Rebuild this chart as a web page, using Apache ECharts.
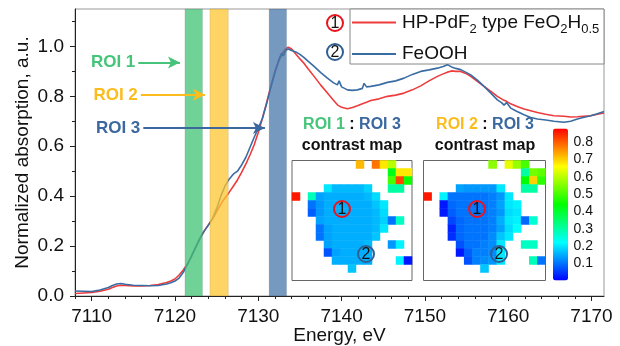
<!DOCTYPE html>
<html>
<head>
<meta charset="utf-8">
<script src="https://cdn.jsdelivr.net/npm/echarts@6/dist/echarts.min.js"></script>
<style>
  html, body { margin: 0; padding: 0; background: #fff; }
  #chart { width: 620px; height: 346px; }
</style>
</head>
<body>
<div id="chart"></div>
<script>
// spectra
const energy = [7108, 7109, 7110, 7111, 7112, 7112.5, 7113, 7113.5, 7114, 7115, 7116, 7117, 7118, 7119, 7119.5, 7120, 7120.5, 7121, 7121.5, 7122,
  7122.5, 7123, 7123.5, 7124, 7124.5, 7125, 7125.5, 7126, 7126.5, 7127, 7127.5, 7128, 7128.5, 7129, 7129.5, 7130, 7130.5, 7131, 7131.5, 7132,
  7132.5, 7132.8, 7133, 7133.3, 7133.6, 7134, 7134.5, 7135, 7135.5, 7136, 7136.7, 7137.5, 7138.3, 7139, 7139.5, 7139.7, 7140, 7140.7, 7141.3, 7141.9,
  7142.5, 7142.7, 7143, 7143.5, 7144.5, 7145.5, 7146.5, 7147.5, 7148.5, 7149.5, 7150.5, 7151.5, 7152.2, 7152.7, 7153.2, 7153.7, 7154.3, 7155, 7155.5, 7156.3,
  7157.1, 7158, 7158.7, 7159.2, 7159.5, 7159.8, 7160.3, 7161, 7161.9, 7162.7, 7163.5, 7164.5, 7165.5, 7166.7, 7167.5, 7168.3, 7169, 7169.9, 7170.7, 7171.5]
const absHP = [0.010, 0.012, 0.014, 0.019, 0.027, 0.034, 0.040, 0.043, 0.042, 0.040, 0.040, 0.042, 0.046, 0.054, 0.060, 0.068, 0.084, 0.104, 0.128, 0.160,
  0.196, 0.230, 0.260, 0.285, 0.308, 0.338, 0.368, 0.393, 0.415, 0.440, 0.465, 0.495, 0.528, 0.565, 0.605, 0.655, 0.712, 0.775, 0.840, 0.900,
  0.945, 0.965, 0.978, 0.990, 0.997, 0.990, 0.970, 0.950, 0.932, 0.910, 0.880, 0.845, 0.813, 0.785, 0.766, 0.762, 0.756, 0.750, 0.755, 0.762,
  0.770, 0.772, 0.776, 0.783, 0.790, 0.800, 0.805, 0.813, 0.826, 0.842, 0.862, 0.880, 0.890, 0.897, 0.902, 0.900, 0.900, 0.890, 0.880, 0.860,
  0.840, 0.818, 0.800, 0.790, 0.784, 0.780, 0.770, 0.760, 0.749, 0.742, 0.735, 0.728, 0.722, 0.720, 0.717, 0.718, 0.720, 0.722, 0.728, 0.733]
const absFeOOH = [0.020, 0.019, 0.018, 0.024, 0.034, 0.042, 0.048, 0.050, 0.047, 0.043, 0.042, 0.041, 0.042, 0.048, 0.053, 0.060, 0.072, 0.095, 0.127, 0.162,
  0.197, 0.232, 0.260, 0.283, 0.310, 0.350, 0.400, 0.440, 0.468, 0.488, 0.500, 0.525, 0.555, 0.595, 0.635, 0.672, 0.712, 0.770, 0.835, 0.895,
  0.950, 0.972, 0.962, 0.985, 0.990, 0.984, 0.978, 0.968, 0.955, 0.940, 0.920, 0.895, 0.873, 0.855, 0.846, 0.862, 0.838, 0.826, 0.824, 0.826,
  0.832, 0.852, 0.838, 0.840, 0.846, 0.856, 0.862, 0.873, 0.888, 0.900, 0.906, 0.913, 0.920, 0.927, 0.918, 0.912, 0.907, 0.895, 0.886, 0.865,
  0.840, 0.810, 0.786, 0.775, 0.765, 0.775, 0.753, 0.740, 0.726, 0.715, 0.709, 0.705, 0.700, 0.696, 0.700, 0.709, 0.715, 0.722, 0.730, 0.739]

const seriesNames = ['HP-PdF2 type FeO2H0.5', 'FeOOH']

const xMajorTicks = [7110, 7120, 7130, 7140, 7150, 7160, 7170]
const xMinorTicks = [7108, 7112, 7114, 7116, 7118, 7122, 7124, 7126, 7128, 7132, 7134, 7136, 7138, 7142, 7144, 7146, 7148,
  7152, 7154, 7156, 7158, 7162, 7164, 7166, 7168]
const yMajorTicks = [0, 0.2, 0.4, 0.6, 0.8, 1.0]
const yMinorTicks = [0.1, 0.3, 0.5, 0.7, 0.9, 1.1]
const cbarTicks = [0.1, 0.2, 0.3, 0.4, 0.5, 0.6, 0.7, 0.8]

// ROI energy windows and their arrows (eV, absorption)
const roiBands = [[7121.2, 7123.3], [7124.2, 7126.4], [7131.3, 7133.4]]
const roiNames = ['ROI 1', 'ROI 2', 'ROI 3']
const roiArrowStart = [7115.6, 7115.9, 7116.2]
const roiArrowEnd = [7120.6, 7123.6, 7130.8]
const roiArrowY = [0.936, 0.806, 0.673]

// contrast maps, 15 x 15 pixels, row 0 at the top, null = no data
const _ = null
const mapRoi1 = [
  [_, _, _, _, _, _, _, _, .72, _, .78, .68, .60, _, _],
  [_, _, _, _, _, _, _, _, _, _, _, _, .42, .68, .68],
  [_, _, _, _, _, _, _, _, _, _, _, _, .50, .82, .45],
  [_, _, _, _, .20, .16, .16, .16, .16, .18, _, _, .30, .30, _],
  [.86, _, .28, .14, .15, .15, .15, .15, .15, .16, .19, _, _, _, _],
  [_, _, .10, .13, .15, .15, .15, .15, .15, .15, .17, .20, _, _, _],
  [_, _, .08, .13, .15, .15, .15, .15, .15, .15, .16, .19, _, _, _],
  [_, _, _, .14, .15, .15, .15, .15, .15, .15, .16, .18, .10, .27, _],
  [_, _, _, .10, .14, .15, .15, .15, .15, .15, .16, .20, _, _, _],
  [_, _, _, .10, .14, .15, .15, .15, .15, .15, .17, _, _, _, _],
  [_, _, _, _, .14, .15, .15, .15, .15, .16, _, _, .13, .21, _],
  [_, _, _, _, .07, .14, .15, .15, .15, .15, _, _, _, _, _],
  [_, _, _, _, _, .15, .15, .15, .15, .15, _, _, _, .21, .02],
  [_, _, _, _, _, _, _, .17, _, _, _, _, _, _, _],
  [_, _, _, _, _, _, _, _, _, _, _, _, _, _, _]
]
const mapRoi2 = [
  [_, _, _, _, _, _, _, _, .56, _, .64, .57, .50, _, _],
  [_, _, _, _, _, _, _, _, _, _, _, _, .30, .54, .52],
  [_, _, _, _, _, _, _, _, _, _, _, _, .44, .70, .48],
  [_, _, _, _, .14, .13, .13, .13, .13, .20, _, _, .30, .30, _],
  [.86, _, .21, .10, .10, .10, .10, .10, .11, .13, .20, _, _, _, _],
  [_, _, .02, .09, .10, .10, .10, .10, .11, .14, .20, .21, _, _, _],
  [_, _, .02, .08, .10, .10, .10, .10, .11, .13, .19, .20, _, _, _],
  [_, _, _, .06, .09, .10, .10, .10, .11, .15, .20, .21, .09, .26, _],
  [_, _, _, .03, .09, .10, .10, .10, .11, .14, .19, .22, _, _, _],
  [_, _, _, .04, .09, .10, .10, .10, .12, .17, .20, _, _, _, _],
  [_, _, _, _, .07, .10, .10, .11, .12, .20, _, _, .27, .27, _],
  [_, _, _, _, .02, .08, .11, .11, .12, .20, _, _, _, _, _],
  [_, _, _, _, _, .07, .11, .12, .13, .20, _, _, _, .28, .10],
  [_, _, _, _, _, _, _, .17, _, _, _, _, _, _, _],
  [_, _, _, _, _, _, _, _, _, _, _, _, _, _, _]
]

const FONT = 'Liberation Sans, Arial, sans-serif'
const RED = '#ee3b3b'
const BLUE = '#3a6ca4'
const roiColors = ['#45c47a', '#fbbd1e', '#3b689f']
const bandColors = ['rgb(64,194,116)', 'rgb(253,198,46)', 'rgb(70,118,168)']
const heatColors = ['#0000ff', '#00ffff', '#00ff00', '#ffff00', '#ff0000']

const cells = n => Array.from({ length: n }, (v, i) => i)
function toCells(map) {
  const out = []
  map.forEach((row, r) => row.forEach((v, c) => { if (v !== null) out.push([c, r, v]) }))
  return out
}
function circled(x, y, n, color) {
  return [
    { type: 'circle', z: 20, shape: { cx: x, cy: y, r: 8 }, style: { fill: 'none', stroke: color, lineWidth: 2 } },
    { type: 'text', z: 21, style: { text: n, x: x, y: y + 1, align: 'center', verticalAlign: 'middle', fontSize: 16, fontFamily: FONT, fill: '#111' } }
  ]
}
function insetTitle(x, a, aColor) {
  return [
    { type: 'text', z: 20, style: {
      text: '{a|' + a + '}{k| : }{b|ROI 3}', x: x, y: 125, align: 'center', verticalAlign: 'middle',
      rich: {
        a: { fontSize: 16, fontWeight: 'bold', fontFamily: FONT, fill: aColor },
        k: { fontSize: 16, fontWeight: 'bold', fontFamily: FONT, fill: '#111' },
        b: { fontSize: 16, fontWeight: 'bold', fontFamily: FONT, fill: roiColors[2] }
      } } },
    { type: 'text', z: 20, style: { text: 'contrast map', x: x, y: 146, align: 'center', verticalAlign: 'middle',
      fontSize: 16, fontWeight: 'bold', fontFamily: FONT, fill: '#111' } }
  ]
}

const chart = echarts.init(document.getElementById('chart'))

const axisBlack = { show: true, lineStyle: { color: '#222', width: 1 } }
const insetAxis = (gi, inv) => ({
  type: 'category', gridIndex: gi, data: cells(15), inverse: inv,
  axisLine: { show: false }, axisTick: { show: false }, axisLabel: { show: false }, splitLine: { show: false }
})

const option = {
  animation: false,
  textStyle: { fontFamily: FONT },
  grid: [
    { left: 75, top: 9, right: 16, bottom: 50, show: true, borderColor: '#999', borderWidth: 1, outerBoundsMode: 'none' },
    { left: 292, top: 160.5, width: 120, height: 120, show: true, borderColor: '#666', borderWidth: 1, backgroundColor: '#fff', z: 8, outerBoundsMode: 'none' },
    { left: 423.5, top: 160.5, width: 122, height: 120, show: true, borderColor: '#666', borderWidth: 1, backgroundColor: '#fff', z: 8, outerBoundsMode: 'none' },
    { left: 553.5, top: 128.5, width: 15, height: 152, show: false, outerBoundsMode: 'none' }
  ],
  xAxis: [
    {
      type: 'value', gridIndex: 0, min: 7108, max: 7171.5, position: 'bottom',
      axisLine: axisBlack,
      axisTick: { customValues: xMajorTicks, length: 5, lineStyle: { color: '#222' } },
      axisLabel: { customValues: xMajorTicks, fontSize: 19, color: '#111', margin: 11, formatter: v => String(v) },
      splitLine: { show: false },
      name: 'Energy, eV', nameLocation: 'middle', nameGap: 30, nameMoveOverlap: false,
      nameTextStyle: { fontSize: 19, color: '#111' }
    },
    {
      type: 'value', gridIndex: 0, min: 7108, max: 7171.5, position: 'bottom',
      axisLine: { show: false },
      axisTick: { customValues: xMinorTicks, length: 3, lineStyle: { color: '#222' } },
      axisLabel: { show: false }, splitLine: { show: false }
    },
    insetAxis(1, false),
    insetAxis(2, false),
    { type: 'value', gridIndex: 3, show: false, min: 0, max: 1 }
  ],
  yAxis: [
    {
      type: 'value', gridIndex: 0, min: 0, max: 1.15, position: 'left',
      axisLine: axisBlack,
      axisTick: { customValues: yMajorTicks, length: 5, lineStyle: { color: '#222' } },
      axisLabel: { customValues: yMajorTicks, fontSize: 19, color: '#111', margin: 11, formatter: v => v.toFixed(1) },
      splitLine: { show: false },
      name: 'Normalized absorption, a.u.', nameLocation: 'middle', nameGap: 43, nameRotate: 90, nameMoveOverlap: false,
      nameTextStyle: { fontSize: 19, color: '#111' }
    },
    {
      type: 'value', gridIndex: 0, min: 0, max: 1.15, position: 'left',
      axisLine: { show: false },
      axisTick: { customValues: yMinorTicks, length: 3, lineStyle: { color: '#222' } },
      axisLabel: { show: false }, splitLine: { show: false }
    },
    insetAxis(1, true),
    insetAxis(2, true),
    {
      type: 'value', gridIndex: 3, min: 0, max: 0.88, position: 'right',
      axisLine: { show: false },
      axisTick: { customValues: cbarTicks, length: 3, lineStyle: { color: '#222' } },
      axisLabel: { customValues: cbarTicks, fontSize: 14, color: '#111', margin: 5, formatter: v => v.toFixed(1) },
      splitLine: { show: false }
    }
  ],
  legend: {
    data: seriesNames, orient: 'vertical', left: 352, top: 13, padding: 0, itemGap: 9,
    itemWidth: 44, itemHeight: 2, icon: 'rect', z: 10,
    formatter: name => name === seriesNames[0]
      ? '{n|HP-PdF}{s|2}{n| type FeO}{s|2}{n|H}{s|0.5}'
      : '{n|' + name + '}',
    textStyle: {
      color: '#111', fontSize: 19, padding: [0, 0, 0, 1],
      rich: {
        n: { fontSize: 19, lineHeight: 26, fontFamily: FONT, color: '#111' },
        s: { fontSize: 13, lineHeight: 12, verticalAlign: 'bottom', fontFamily: FONT, color: '#111' }
      }
    }
  },
  visualMap: {
    type: 'continuous', min: 0, max: 0.88, seriesIndex: [4, 5], calculable: false,
    left: 553, top: 128.5, itemWidth: 15, itemHeight: 152, padding: 0, text: null,
    inRange: { color: heatColors }
  },
  series: [
    {
      name: seriesNames[0], type: 'line', xAxisIndex: 0, yAxisIndex: 0, symbol: 'none', z: 2,
      color: RED, lineStyle: { color: RED, width: 1.6 },
      data: energy.map((e, i) => [e, absHP[i]])
    },
    {
      name: seriesNames[1], type: 'line', xAxisIndex: 0, yAxisIndex: 0, symbol: 'none', z: 3,
      color: BLUE, lineStyle: { color: BLUE, width: 1.6 },
      data: energy.map((e, i) => [e, absFeOOH[i]])
    },
    {
      type: 'line', xAxisIndex: 0, yAxisIndex: 0, data: [], z: 5,
      markArea: {
        silent: true, z: 5,
        data: roiBands.map((b, i) => [
          { xAxis: b[0], itemStyle: { color: bandColors[i], opacity: 0.74, borderColor: 'rgba(90,90,90,0.35)', borderWidth: 0.6 } },
          { xAxis: b[1] }
        ])
      }
    },
    {
      type: 'line', xAxisIndex: 0, yAxisIndex: 0, data: [], z: 6,
      markLine: {
        silent: true, symbol: ['none', 'arrow'], symbolSize: [9, 12], z: 6,
        label: { show: true, position: 'start', distance: 3, formatter: '{b}', fontSize: 17, fontWeight: 'bold', fontFamily: FONT },
        data: roiNames.map((n, i) => [
          { name: n, coord: [roiArrowStart[i], roiArrowY[i]], lineStyle: { color: roiColors[i], width: 2, type: 'solid' },
            itemStyle: { color: roiColors[i] }, label: { color: roiColors[i] } },
          { coord: [roiArrowEnd[i], roiArrowY[i]] }
        ])
      }
    },
    {
      type: 'heatmap', xAxisIndex: 2, yAxisIndex: 2, z: 9, data: toCells(mapRoi1),
      itemStyle: { borderWidth: 0 }, emphasis: { disabled: true }
    },
    {
      type: 'heatmap', xAxisIndex: 3, yAxisIndex: 3, z: 9, data: toCells(mapRoi2),
      itemStyle: { borderWidth: 0 }, emphasis: { disabled: true }
    },
    { type: 'scatter', xAxisIndex: 4, yAxisIndex: 4, data: [] }
  ],
  graphic: [
    { type: 'rect', z: 3, shape: { x: 350, y: 9, width: 254, height: 55 }, style: { fill: '#fff', stroke: '#888', lineWidth: 1 } },
    ...circled(335, 23, '1', '#e8141e'),
    ...circled(335, 52, '2', '#2f5f96'),
    ...circled(342, 209, '1', '#e8141e'),
    ...circled(366, 254, '2', '#2f5f96'),
    ...circled(477, 209, '1', '#e8141e'),
    ...circled(499, 254, '2', '#2f5f96'),
    ...insetTitle(352, 'ROI 1', roiColors[0]),
    ...insetTitle(485, 'ROI 2', roiColors[1])
  ]
}

chart.setOption(option)
</script>
</body>
</html>
